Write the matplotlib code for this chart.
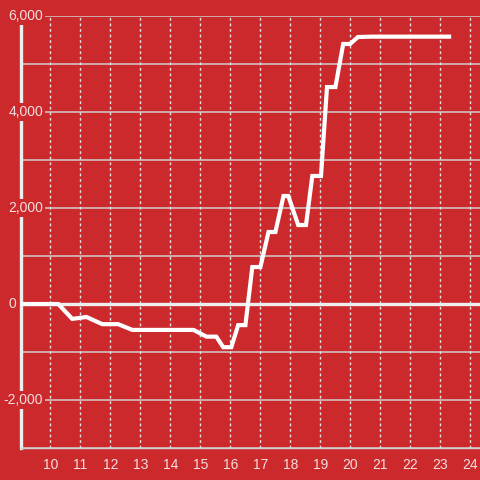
import matplotlib
matplotlib.use("Agg")
import matplotlib.pyplot as plt

# line vertices
hours = [9.0, 10.26, 10.73, 11.2, 11.73, 12.26, 12.73, 14.77, 15.2, 15.53,
         15.76, 16.03, 16.26, 16.5, 16.73, 17.0, 17.27, 17.5, 17.77, 17.93,
         18.26, 18.52, 18.73, 19.02, 19.22, 19.5, 19.76, 19.99, 20.25, 20.7,
         23.29]
values = [0, 0, -310, -270, -420, -420, -540, -540, -680, -680,
          -900, -900, -440, -440, 770, 770, 1500, 1500, 2250, 2250,
          1645, 1645, 2667, 2667, 4520, 4520, 5417, 5417, 5562, 5570,
          5570]

x_ticks = list(range(10, 25))
y_major = [-2000, 0, 2000, 4000, 6000]
y_minor = [-3000, -1000, 1000, 3000, 5000]

BG = "#cc292d"
GRID = "#cfcfcf"
LABEL = "#f3dede"

fig = plt.figure(figsize=(4.8, 4.8), dpi=100, facecolor=BG)
ax = fig.add_axes([21 / 480, 32 / 480, 459 / 480, 432 / 480], facecolor=BG)
ax.set_xlim(9.02, 24.32)
ax.set_ylim(-3000, 6000)

for y in y_major + y_minor:
    if y != 0:
        ax.axhline(y, color=GRID, lw=1.1, zorder=1)
for x in x_ticks:
    ax.axvline(x, color="#e2e2e2", lw=1, ls=(0, (2, 2)), zorder=1)
ax.axhline(0, color="#eeeeee", lw=2.4, zorder=2)

ax.plot(hours, values, color="white", lw=3.0, solid_joinstyle="miter",
        zorder=3)

for s in ["top", "right"]:
    ax.spines[s].set_visible(False)
ax.spines["left"].set_color("#eeeeee")
ax.spines["left"].set_linewidth(2.4)
ax.spines["bottom"].set_color(GRID)
ax.spines["bottom"].set_linewidth(1)

ax.set_yticks([])
ax.set_xticks(x_ticks)
ax.set_xticklabels([str(x) for x in x_ticks], color=LABEL, fontsize=10,
                   family="Liberation Sans")
ax.tick_params(axis="x", length=0, pad=7)

for y in y_major:
    txt = f"{y:,}"
    if y == 0:
        ax.annotate(txt, xy=(0, y), xycoords=("axes fraction", "data"),
                    xytext=(-5, 0), textcoords="offset pixels",
                    ha="right", va="center", color=LABEL, fontsize=10,
                    family="Liberation Sans", zorder=10,
                    annotation_clip=False)
        continue
    ax.annotate(txt, xy=(0, y), xycoords=("axes fraction", "data"),
                xytext=(22, 0), textcoords="offset pixels",
                ha="right", va="center", color=LABEL, fontsize=10,
                family="Liberation Sans", zorder=10, annotation_clip=False,
                bbox=dict(facecolor=BG, edgecolor="none", pad=1.5))

fig.savefig("out.png", dpi=100, facecolor=BG)
